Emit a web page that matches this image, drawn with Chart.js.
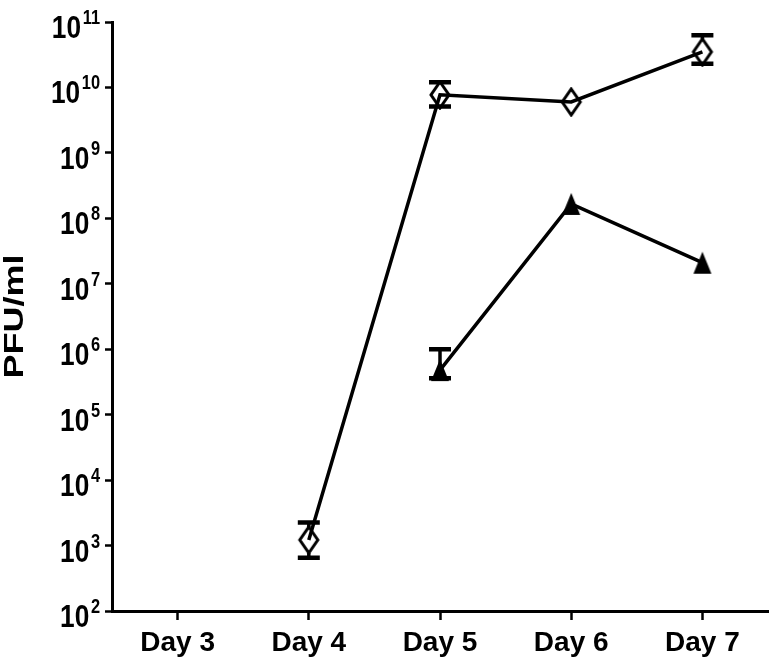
<!DOCTYPE html>
<html>
<head>
<meta charset="utf-8">
<title>PFU/ml</title>
<script src="https://cdn.jsdelivr.net/npm/chart.js@4.4.1/dist/chart.umd.min.js"></script>
<style>
    html, body { margin: 0; padding: 0; background: #fff; }
    #chart-wrap { width: 774px; height: 667px; }
</style>
</head>
<body>
<div id="chart-wrap"><canvas id="chart-1"></canvas></div>
<script>
// Donnees
const days = ['Day 3', 'Day 4', 'Day 5', 'Day 6', 'Day 7'];
const yTicks = [1e2, 1e3, 1e4, 1e5, 1e6, 1e7, 1e8, 1e9, 1e10, 1e11];

// Serie losange (vide)
const diamondMean = [null, 1.22e3, 7.7e9, 6.0e9, 3.5e10];
const diamondLow = [null, 6.5e2, 5.1e9, 6.0e9, 2.3e10];
const diamondHigh = [null, 2.25e3, 1.2e10, 6.0e9, 6.3e10];

// Serie triangle (plein)
const triangleMean = [null, null, 4.8e5, 1.66e8, 2.1e7];
const triangleLow = [null, null, 3.6e5, 1.66e8, 2.1e7];
const triangleHigh = [null, null, 1.0e6, 1.66e8, 2.1e7];

const FONT = '"Liberation Sans", Arial, sans-serif';

// Marqueurs : losange etire et triangle
function makeDiamond() {
    const c = document.createElement('canvas');
    c.width = 24;
    c.height = 30;
    const ctx = c.getContext('2d');
    ctx.strokeStyle = '#000';
    ctx.lineWidth = 3;
    ctx.beginPath();
    ctx.moveTo(12, 2);
    ctx.lineTo(21, 15);
    ctx.lineTo(12, 28);
    ctx.lineTo(3, 15);
    ctx.closePath();
    ctx.stroke();
    return c;
}

function makeTriangle() {
    const c = document.createElement('canvas');
    c.width = 20;
    c.height = 24;
    const ctx = c.getContext('2d');
    ctx.fillStyle = '#000';
    ctx.beginPath();
    ctx.moveTo(10, 1);
    ctx.lineTo(19, 23);
    ctx.lineTo(1, 23);
    ctx.closePath();
    ctx.fill();
    return c;
}

// Barres d'erreur, la tige s'arrete au bord du marqueur
const errorBars = {
    id: 'errorBars',
    beforeDatasetsDraw(chart) {
        const ctx = chart.ctx;
        const xs = chart.scales.x;
        const ys = chart.scales.y;
        ctx.save();
        ctx.strokeStyle = '#000';
        chart.data.datasets.forEach(function(ds) {
            ds.data.forEach(function(v, i) {
                if (v === null || ds.errHigh[i] === ds.errLow[i]) return;
                const px = xs.getPixelForValue(i);
                const py = ys.getPixelForValue(v);
                const top = ys.getPixelForValue(ds.errHigh[i]);
                const bot = ys.getPixelForValue(ds.errLow[i]);
                const gap = ds.stemGap;
                ctx.lineWidth = 3.5;
                ctx.beginPath();
                if (py - gap > top) {
                    ctx.moveTo(px, top);
                    ctx.lineTo(px, py - gap);
                }
                if (py + gap < bot) {
                    ctx.moveTo(px, py + gap);
                    ctx.lineTo(px, bot);
                }
                ctx.stroke();
                ctx.lineWidth = 4.5;
                ctx.beginPath();
                ctx.moveTo(px - 11, top);
                ctx.lineTo(px + 11, top);
                ctx.moveTo(px - 11, bot);
                ctx.lineTo(px + 11, bot);
                ctx.stroke();
            });
        });
        ctx.restore();
    }
};

// Etiquettes 10^n et titre de l'axe y
const yLabels = {
    id: 'yLabels',
    afterDraw(chart) {
        const ctx = chart.ctx;
        const ys = chart.scales.y;
        ctx.save();
        ctx.fillStyle = '#000';
        ctx.textAlign = 'right';
        ctx.textBaseline = 'alphabetic';
        yTicks.forEach(function(v) {
            const py = ys.getPixelForValue(v);
            const exp = String(Math.round(Math.log10(v)));
            ctx.save();
            ctx.translate(100, py);
            ctx.scale(0.82, 1);
            ctx.font = 'bold 20px ' + FONT;
            const supW = ctx.measureText(exp).width;
            ctx.fillText(exp, 0, 2);
            ctx.font = 'bold 32px ' + FONT;
            ctx.fillText('10', -supW - 2, 16);
            ctx.restore();
        });

        ctx.save();
        ctx.translate(16, (ys.top + ys.bottom) / 2);
        ctx.rotate(-Math.PI / 2);
        ctx.scale(1, 0.75);
        ctx.font = 'bold 36px ' + FONT;
        ctx.textAlign = 'center';
        ctx.textBaseline = 'middle';
        ctx.fillText('PFU/ml', 0, 0);
        ctx.restore();
        ctx.restore();
    }
};

const data = {
    labels: days,
    datasets: [{
        label: 'diamond',
        data: diamondMean,
        errLow: diamondLow,
        errHigh: diamondHigh,
        stemGap: 13,
        borderColor: '#000',
        borderWidth: 3.5,
        pointStyle: makeDiamond(),
        clip: false
    }, {
        label: 'triangle',
        data: triangleMean,
        errLow: triangleLow,
        errHigh: triangleHigh,
        stemGap: 0,
        borderColor: '#000',
        borderWidth: 3.5,
        pointStyle: makeTriangle(),
        clip: false
    }]
};

const config = {
    type: 'line',
    data: data,
    options: {
        responsive: true,
        maintainAspectRatio: false,
        animation: false,
        layout: { autoPadding: false, padding: { top: 22, right: 6, left: 0, bottom: 0 } },
        plugins: {
            legend: { display: false },
            tooltip: { enabled: false }
        },
        scales: {
            x: {
                type: 'category',
                offset: true,
                border: { display: true, color: '#000', width: 3 },
                grid: {
                    drawOnChartArea: false,
                    drawTicks: true,
                    tickLength: 9,
                    tickWidth: 2.5,
                    tickColor: '#000',
                    offset: false
                },
                ticks: {
                    color: '#000',
                    font: { family: FONT, size: 28, weight: 'bold' },
                    padding: 6,
                    maxRotation: 0
                },
                afterFit: function(scale) { scale.height = 56; }
            },
            y: {
                type: 'logarithmic',
                min: 1e2,
                max: 1e11,
                border: { display: true, color: '#000', width: 3 },
                grid: {
                    drawOnChartArea: false,
                    drawTicks: true,
                    tickLength: 7,
                    tickWidth: 2.5,
                    tickColor: '#000'
                },
                ticks: { display: false },
                afterBuildTicks: function(scale) {
                    scale.ticks = yTicks.map(function(v) { return { value: v }; });
                },
                afterFit: function(scale) { scale.width = 112; }
            }
        }
    },
    plugins: [errorBars, yLabels]
};

const chart1 = new Chart(document.getElementById('chart-1'), config);
</script>
</body>
</html>
